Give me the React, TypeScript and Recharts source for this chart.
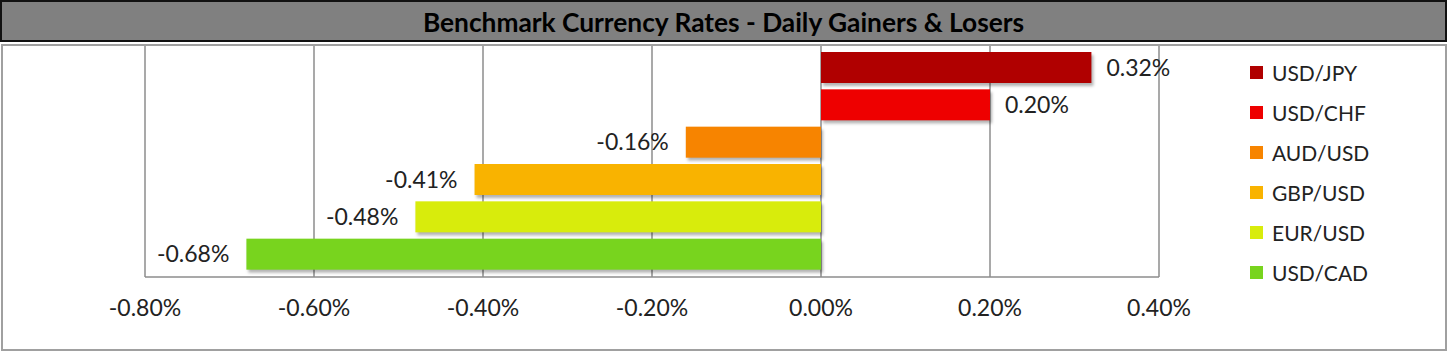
import { Bar, BarChart, CartesianGrid, Cell, LabelList, XAxis, YAxis } from "recharts";

const categories = ["USD/JPY", "USD/CHF", "AUD/USD", "GBP/USD", "EUR/USD", "USD/CAD"];
const changes = [0.32, 0.2, -0.16, -0.41, -0.48, -0.68];
const barColors = ["#b00000", "#ee0000", "#f78400", "#f9b300", "#d8ec0c", "#78d41e"];
const xTicks = [-0.8, -0.6, -0.4, -0.2, 0, 0.2, 0.4];

const data = categories.map((pair, i) => ({ pair, change: changes[i] }));

const FONT = "Lato, 'Noto Sans', sans-serif";
const TEXT = "#222";

function ShadowBar(props: any) {
  const { x, y, width, height, fill, index } = props;
  const left = Math.min(x, x + width);
  const w = Math.abs(width);
  const id = `bar-shadow-${index}`;
  return (
    <g>
      <defs>
        <filter id={id} x="-10%" y="-30%" width="120%" height="160%">
          <feGaussianBlur stdDeviation="1.6" />
        </filter>
      </defs>
      <rect x={left + 2} y={y + 3} width={w} height={height} fill="rgba(0,0,0,0.3)" filter={`url(#${id})`} />
      <rect x={left} y={y} width={w} height={height} fill={fill} />
    </g>
  );
}

function ValueLabel(props: any) {
  const { x, y, width, height, value } = props;
  const end = Number(x) + Number(width);
  const cy = Number(y) + Number(height) / 2;
  const neg = Number(value) < 0;
  return (
    <text
      x={neg ? end - 17 : end + 15}
      y={cy}
      dy="0.36em"
      textAnchor={neg ? "end" : "start"}
      fontSize={23}
      fontFamily={FONT}
      fill={TEXT}
    >
      {`${Number(value).toFixed(2)}%`}
    </text>
  );
}

function PairLegend() {
  return (
    <div style={{ position: "absolute", left: 1250, top: 52, fontFamily: FONT }}>
      {categories.map((pair, i) => (
        <div key={pair} style={{ height: 40, display: "flex", alignItems: "center" }}>
          <span style={{ width: 13, height: 13, background: barColors[i], marginRight: 9, display: "inline-block" }} />
          <span style={{ fontSize: 21, color: TEXT }}>{pair}</span>
        </div>
      ))}
    </div>
  );
}

export default function App() {
  return (
    <div style={{ position: "absolute", left: 0, top: 0, width: 1449, height: 353, background: "#fff" }}>
      <div
        style={{
          position: "absolute",
          left: 0,
          top: 0,
          width: 1447,
          height: 42,
          boxSizing: "border-box",
          background: "#808080",
          border: "2px solid #111",
          display: "flex",
          alignItems: "center",
          justifyContent: "center",
          fontFamily: FONT,
          fontWeight: 700,
          fontSize: 26.3,
          color: "#000",
          paddingTop: 1,
        }}
      >
        Benchmark Currency Rates - Daily Gainers &amp; Losers
      </div>
      <div
        style={{
          position: "absolute",
          left: 1,
          top: 44,
          width: 1446,
          height: 307,
          boxSizing: "border-box",
          border: "2px solid #a0a0a0",
        }}
      />
      <div style={{ position: "absolute", left: 0, top: 0 }}>
        <BarChart
          width={1449}
          height={353}
          data={data}
          layout="vertical"
          barSize={31}
          margin={{ top: 46, right: 290, bottom: 46, left: 145 }}
        >
          <CartesianGrid horizontal={false} stroke="#8c8c8c" strokeWidth={1.5} />
          <XAxis
            type="number"
            domain={[-0.8, 0.4]}
            ticks={xTicks}
            height={30}
            tickSize={0}
            tickMargin={23}
            axisLine={{ stroke: "#8c8c8c", strokeWidth: 1.5 }}
            tickLine={false}
            tick={{ fontSize: 23, fill: TEXT, fontFamily: FONT }}
            tickFormatter={(v) => `${Number(v).toFixed(2)}%`}
          />
          <YAxis type="category" dataKey="pair" hide padding={{ top: 3, bottom: 4 }} />
          <Bar dataKey="change" isAnimationActive={false} shape={<ShadowBar />}>
            {data.map((d, i) => (
              <Cell key={d.pair} fill={barColors[i]} />
            ))}
            <LabelList dataKey="change" content={<ValueLabel />} />
          </Bar>
        </BarChart>
      </div>
      <PairLegend />
    </div>
  );
}
